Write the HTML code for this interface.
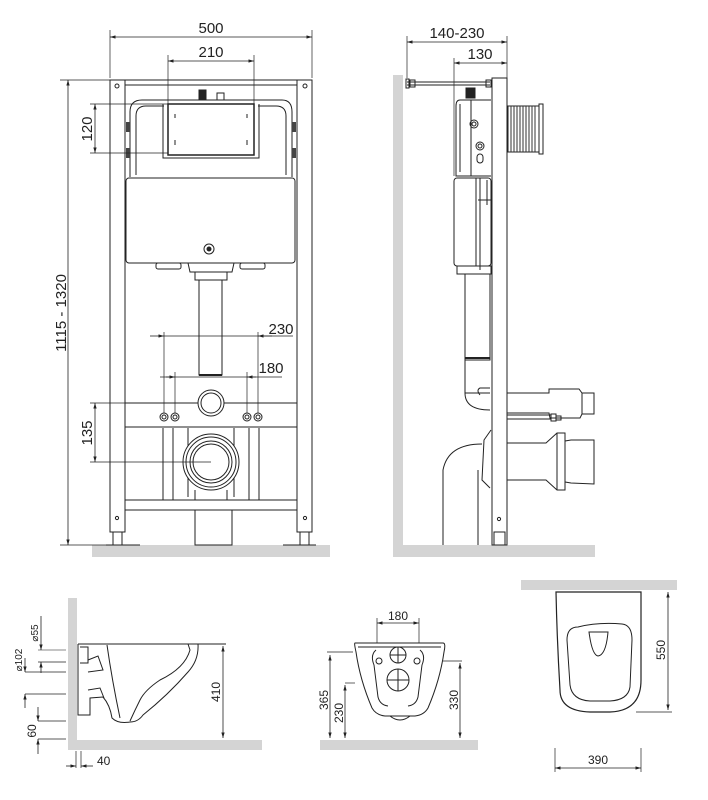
<!DOCTYPE html>
<html><head><meta charset="utf-8"><style>
html,body{margin:0;padding:0;background:#fff;width:708px;height:800px;overflow:hidden}
svg{display:block}
text{font-family:"Liberation Sans",sans-serif;fill:#222}
</style></head><body>
<svg width="708" height="800" viewBox="0 0 708 800" xmlns="http://www.w3.org/2000/svg">
<defs>
<marker id="a" viewBox="0 0 10 10" refX="10" refY="5" markerWidth="7" markerHeight="7" orient="auto-start-reverse"><path d="M0,2 L10,5 L0,8 z" fill="#222"/></marker>
</defs>
<g stroke="#222" fill="none" stroke-width="1">
<!-- ===== FRONT VIEW ===== -->
<rect x="92" y="545" width="238" height="12" fill="#d4d4d4" stroke="none"/>
<!-- frame posts -->
<rect x="110" y="80" width="15" height="452" fill="#fff"/>
<rect x="297" y="80" width="15" height="452" fill="#fff"/>
<line x1="125" y1="80" x2="297" y2="80"/><line x1="125" y1="85" x2="297" y2="85"/>
<circle cx="117" cy="86" r="2"/><circle cx="305" cy="86" r="2"/>
<circle cx="117" cy="518" r="1.6"/><circle cx="305" cy="518" r="1.6"/>
<rect x="113" y="532" width="9" height="13"/><rect x="300" y="532" width="9" height="13"/>
<line x1="106" y1="545" x2="140" y2="545"/><line x1="283" y1="545" x2="316" y2="545"/>
<!-- cistern upper -->
<path d="M130,177 L130,112 Q130,100 142,100 L282,100 Q292,100 292,112 L292,177"/>
<path d="M136,175 L136,116 Q136,106 146,106 L164,106 M258,106 L276,106 Q286,106 286,116 L286,175"/>
<path d="M163,104 L163,158 L259,158 L259,104"/>
<rect x="168" y="104" width="86" height="51" stroke-width="1.5"/>
<line x1="175" y1="114" x2="175" y2="118"/><line x1="247" y1="114" x2="247" y2="118"/>
<line x1="175" y1="140" x2="175" y2="145"/><line x1="247" y1="140" x2="247" y2="145"/>
<rect x="199" y="90" width="7" height="10" fill="#222"/><rect x="217" y="93" width="7" height="7"/>
<rect x="126" y="122" width="4" height="10" fill="#444" stroke="none"/><rect x="292" y="122" width="4" height="10" fill="#444" stroke="none"/>
<rect x="126" y="148" width="4" height="10" fill="#444" stroke="none"/><rect x="292" y="148" width="4" height="10" fill="#444" stroke="none"/>
<!-- cistern lower box -->
<rect x="126" y="178" width="169" height="85" rx="3" fill="#fff"/>
<circle cx="209" cy="249" r="5"/><circle cx="209" cy="249" r="2" fill="#222"/>
<rect x="156" y="263" width="25" height="6" rx="2"/><rect x="240" y="263" width="25" height="6" rx="2"/>
<path d="M188,263 L234,263 L232,272 L190,272 z"/>
<rect x="195" y="272" width="32" height="8"/>
<rect x="199" y="280" width="23" height="95"/>
<line x1="199" y1="375" x2="222" y2="375" stroke-width="2"/>
<!-- crossbar -->
<rect x="125" y="403" width="172" height="24"/>
<line x1="125" y1="427" x2="297" y2="427"/>
<circle cx="211" cy="403" r="13" fill="#fff"/><circle cx="211" cy="403" r="10"/>
<circle cx="164" cy="417" r="4"/><circle cx="164" cy="417" r="2"/>
<circle cx="175" cy="417" r="4"/><circle cx="175" cy="417" r="2"/>
<circle cx="247" cy="417" r="4"/><circle cx="247" cy="417" r="2"/>
<circle cx="258" cy="417" r="4"/><circle cx="258" cy="417" r="2"/>
<!-- lower area -->
<line x1="163" y1="428" x2="163" y2="500"/><line x1="173" y1="428" x2="173" y2="500"/>
<line x1="249" y1="428" x2="249" y2="500"/><line x1="259" y1="428" x2="259" y2="500"/>
<path d="M188,428 L188,497 M234,428 L234,497 M195,500 L195,490 M227,500 L227,490"/>
<circle cx="211" cy="462" r="28" fill="#fff"/><circle cx="211" cy="462" r="25"/>
<circle cx="211" cy="462" r="21"/><circle cx="211" cy="462" r="18"/>
<rect x="125" y="500" width="172" height="10"/>
<rect x="195" y="510" width="37" height="35"/>
<!-- dims front -->
<line x1="110" y1="78" x2="110" y2="30" stroke-width=".7"/><line x1="312" y1="78" x2="312" y2="30" stroke-width=".7"/>
<line x1="110" y1="37" x2="312" y2="37" marker-start="url(#a)" marker-end="url(#a)" stroke-width=".8"/>
<line x1="168" y1="104" x2="168" y2="55" stroke-width=".7"/><line x1="254" y1="104" x2="254" y2="55" stroke-width=".7"/>
<line x1="168" y1="61" x2="254" y2="61" marker-start="url(#a)" marker-end="url(#a)" stroke-width=".8"/>
<line x1="90" y1="104" x2="168" y2="104" stroke-width=".7"/><line x1="90" y1="153" x2="168" y2="153" stroke-width=".7"/>
<line x1="95" y1="104" x2="95" y2="153" marker-start="url(#a)" marker-end="url(#a)" stroke-width=".8"/>
<line x1="60" y1="80" x2="110" y2="80" stroke-width=".7"/><line x1="60" y1="545" x2="110" y2="545" stroke-width=".7"/>
<line x1="68" y1="80" x2="68" y2="545" marker-start="url(#a)" marker-end="url(#a)" stroke-width=".8"/>
<line x1="90" y1="403" x2="140" y2="403" stroke-width=".7"/><line x1="90" y1="462" x2="211" y2="462" stroke-width=".7"/>
<line x1="95" y1="403" x2="95" y2="462" marker-start="url(#a)" marker-end="url(#a)" stroke-width=".8"/>
<line x1="164" y1="332" x2="164" y2="413" stroke-width=".7"/><line x1="258" y1="332" x2="258" y2="413" stroke-width=".7"/>
<line x1="150" y1="336" x2="164" y2="336" marker-end="url(#a)" stroke-width=".8"/>
<line x1="164" y1="336" x2="293" y2="336" stroke-width=".8"/>
<line x1="272" y1="336" x2="258" y2="336" marker-end="url(#a)" stroke-width=".8"/>
<line x1="175" y1="372" x2="175" y2="413" stroke-width=".7"/><line x1="247" y1="372" x2="247" y2="413" stroke-width=".7"/>
<line x1="160" y1="377" x2="282" y2="377" stroke-width=".8"/>
<line x1="166" y1="377" x2="175" y2="377" marker-end="url(#a)" stroke-width=".8"/>
<line x1="256" y1="377" x2="247" y2="377" marker-end="url(#a)" stroke-width=".8"/>

<!-- ===== SIDE VIEW ===== -->
<rect x="393" y="75" width="10" height="482" fill="#d4d4d4" stroke="none"/>
<rect x="393" y="545" width="202" height="12" fill="#d4d4d4" stroke="none"/>
<rect x="492" y="78" width="15" height="467" fill="#fff"/>
<rect x="494" y="532" width="11" height="13"/>
<circle cx="499" cy="519" r="1.6"/>
<line x1="407" y1="82" x2="490" y2="82"/><line x1="407" y1="85" x2="490" y2="85"/>
<rect x="406" y="79" width="3" height="9"/><rect x="410" y="80" width="5" height="7"/><rect x="486" y="80" width="5" height="7"/>
<rect x="466" y="88" width="9" height="10" fill="#222"/>
<path d="M491,100 L460,100 Q456,100 456,106 L456,176 L491,176"/>
<path d="M460,104 L460,172 M471,100 L471,176"/>
<circle cx="474" cy="124" r="4"/><circle cx="474" cy="124" r="2"/>
<circle cx="480" cy="146" r="4"/><circle cx="480" cy="146" r="2"/>
<rect x="477" y="154" width="6" height="9" rx="3"/>
<rect x="454" y="178" width="37" height="88" rx="3" fill="#fff"/>
<path d="M476,178 L476,266 M478,200 L491,200 M480,178 L480,270 M487,180 L487,205"/>
<rect x="457" y="266" width="34" height="8"/>
<rect x="465" y="274" width="25" height="86"/>
<line x1="465" y1="358" x2="490" y2="358" stroke-width="2"/>
<path d="M465,360 L465,393 Q465,410 490,410 M480,395 Q476,390 480,388 L490,388"/>
<line x1="465" y1="393" x2="490" y2="393"/>
<!-- bellows -->
<rect x="508" y="106" width="33" height="46" fill="#fff"/>
<g stroke="#333"><line x1="511" y1="106" x2="511" y2="152"/><line x1="514" y1="106" x2="514" y2="152"/><line x1="517" y1="106" x2="517" y2="152"/><line x1="520" y1="106" x2="520" y2="152"/><line x1="523" y1="106" x2="523" y2="152"/><line x1="526" y1="106" x2="526" y2="152"/><line x1="529" y1="106" x2="529" y2="152"/><line x1="532" y1="106" x2="532" y2="152"/><line x1="535" y1="106" x2="535" y2="152"/></g>
<rect x="539" y="104" width="4" height="50" fill="#fff"/>
<!-- connectors -->
<path d="M507,393 L549,393 L549,389 L579,389 L582,393 L594,393 L594,414 L582,414 L580,418 L550,418 L549,413 L507,413"/>
<line x1="582" y1="393" x2="582" y2="414"/>
<path d="M507,415 L551,415 L551,419 L507,419"/><rect x="551" y="414" width="5" height="7"/><rect x="556" y="416" width="5" height="4"/>
<path d="M507,443 L546,443 L557,433 L565,433 L565,441 L571,440 L594,440 L594,484 L571,483 L565,482 L565,490 L557,490 L546,480 L507,480"/>
<line x1="565" y1="433" x2="565" y2="490"/><line x1="557" y1="433" x2="557" y2="490"/>
<path d="M491,430 L484,440 L482,480 L490,488"/>
<path d="M482,444 Q448,444 443,470 L443,545"/>
<line x1="478" y1="470" x2="478" y2="545"/>
<!-- side dims -->
<line x1="407" y1="78" x2="407" y2="36" stroke-width=".7"/><line x1="507" y1="78" x2="507" y2="36" stroke-width=".7"/>
<line x1="407" y1="42" x2="507" y2="42" marker-start="url(#a)" marker-end="url(#a)" stroke-width=".8"/>
<line x1="454" y1="176" x2="454" y2="58" stroke-width=".7"/>
<line x1="454" y1="63" x2="507" y2="63" marker-start="url(#a)" marker-end="url(#a)" stroke-width=".8"/>

<!-- ===== BOTTOM LEFT ===== -->
<rect x="68" y="598" width="9" height="152" fill="#d4d4d4" stroke="none"/>
<rect x="68" y="740" width="194" height="10" fill="#d4d4d4" stroke="none"/>
<path d="M78,644 L226,644"/>
<path d="M78,644 L78,715 L90,715 L90,698 L103,697 Q110,705 112,718 Q118,724 130,722 Q138,722 143,715 Q168,695 188,672 Q199,660 198,644"/>
<path d="M107,645 Q112,680 120,718 M130,721 Q135,710 140,700 Q145,690 160,680 Q185,668 190,650 L188,644"/>
<path d="M80,647 L88,647 L88,663 L80,663 M88,660 L98,656 L103,670 L88,672 M88,690 L100,688 L104,698"/>
<line x1="38" y1="650" x2="66" y2="650" stroke="#888"/><line x1="38" y1="662" x2="66" y2="662" stroke-width=".7"/>
<line x1="25" y1="672" x2="66" y2="672" stroke-width=".7"/><line x1="25" y1="694" x2="66" y2="694" stroke-width=".7"/>
<line x1="38" y1="721" x2="66" y2="721" stroke-width=".7"/><line x1="38" y1="739" x2="66" y2="739" stroke-width=".7"/>
<line x1="41" y1="616" x2="41" y2="650" marker-end="url(#a)" stroke-width=".8"/><line x1="41" y1="673" x2="41" y2="662" marker-end="url(#a)" stroke-width=".8"/>
<line x1="25" y1="658" x2="25" y2="672" marker-end="url(#a)" stroke-width=".8"/><line x1="25" y1="708" x2="25" y2="694" marker-end="url(#a)" stroke-width=".8"/>
<line x1="38" y1="707" x2="38" y2="721" marker-end="url(#a)" stroke-width=".8"/><line x1="38" y1="754" x2="38" y2="739" marker-end="url(#a)" stroke-width=".8"/>
<line x1="223" y1="646" x2="223" y2="738" marker-start="url(#a)" marker-end="url(#a)" stroke-width=".8"/>
<line x1="76" y1="751" x2="76" y2="768" stroke-width=".7"/><line x1="81" y1="751" x2="81" y2="768" stroke-width=".7"/>
<line x1="66" y1="766" x2="76" y2="766" marker-end="url(#a)" stroke-width=".8"/><line x1="93" y1="766" x2="81" y2="766" marker-end="url(#a)" stroke-width=".8"/>

<!-- ===== BOTTOM MIDDLE ===== -->
<rect x="320" y="740" width="158" height="10" fill="#d4d4d4" stroke="none"/>
<path d="M355,643 L443,643 Q446,643 444,652 Q440,680 428,708 Q424,715 415,716 L385,716 Q376,715 372,708 Q360,680 356,652 Q354,643 355,643 z"/>
<path d="M358,647 L441,647"/>
<path d="M390,716 Q400,724 410,716"/>
<circle cx="398" cy="655" r="8"/><line x1="390" y1="655" x2="406" y2="655"/><line x1="398" y1="647" x2="398" y2="663"/>
<circle cx="398" cy="680" r="11"/><line x1="387" y1="680" x2="409" y2="680"/><line x1="398" y1="669" x2="398" y2="691"/>
<circle cx="379" cy="661" r="3"/><circle cx="417" cy="661" r="3"/>
<path d="M376,650 Q370,655 374,665 L378,697 Q380,705 388,706 M420,650 Q426,655 422,665 L418,697 Q416,705 408,706"/>
<line x1="377" y1="643" x2="377" y2="618" stroke-width=".7"/><line x1="419" y1="643" x2="419" y2="618" stroke-width=".7"/>
<line x1="377" y1="623" x2="419" y2="623" marker-start="url(#a)" marker-end="url(#a)" stroke-width=".8"/>
<line x1="327" y1="652" x2="353" y2="652" stroke-width=".7"/>
<line x1="330" y1="655" x2="330" y2="738" marker-start="url(#a)" marker-end="url(#a)" stroke-width=".8"/>
<line x1="345" y1="683" x2="355" y2="683" stroke-width=".7"/>
<line x1="345" y1="685" x2="345" y2="738" marker-start="url(#a)" marker-end="url(#a)" stroke-width=".8"/>
<line x1="443" y1="661" x2="462" y2="661" stroke-width=".7"/>
<line x1="460" y1="663" x2="460" y2="738" marker-start="url(#a)" marker-end="url(#a)" stroke-width=".8"/>

<!-- ===== BOTTOM RIGHT ===== -->
<rect x="521" y="580" width="156" height="10" fill="#d4d4d4" stroke="none"/>
<path d="M556,592 L641,592 L641,680 Q641,711 610,712 L590,712 Q560,711 560,690 Q557,640 556,592 z" stroke-width="1.2"/>
<path d="M578,627 Q567,627 567,640 L570,685 Q572,700 590,701 L610,701 Q628,700 630,687 L632,640 Q632,625 622,624 Q598,622 578,627 z"/>
<path d="M589,632 L608,632 Q606,655 598,656 Q592,655 589,632 z"/>
<line x1="636" y1="712" x2="672" y2="712" stroke-width=".7"/>
<line x1="668" y1="592" x2="668" y2="710" marker-start="url(#a)" marker-end="url(#a)" stroke-width=".8"/>
<line x1="555" y1="748" x2="555" y2="772" stroke-width=".7"/><line x1="641" y1="748" x2="641" y2="772" stroke-width=".7"/>
<line x1="555" y1="768" x2="641" y2="768" marker-start="url(#a)" marker-end="url(#a)" stroke-width=".8"/>
</g>

<g font-size="15">
<text x="211" y="33" text-anchor="middle">500</text>
<text x="211" y="57" text-anchor="middle">210</text>
<text x="281" y="334" text-anchor="middle">230</text>
<text x="271" y="373" text-anchor="middle">180</text>
<text transform="translate(92,129) rotate(-90)" text-anchor="middle">120</text>
<text transform="translate(92,433) rotate(-90)" text-anchor="middle">135</text>
<text transform="translate(66,313) rotate(-90)" text-anchor="middle">1115 - 1320</text>
<text x="457" y="38" text-anchor="middle">140-230</text>
<text x="480" y="59" text-anchor="middle">130</text>
</g>
<g font-size="12">
<text transform="translate(38,633) rotate(-90)" text-anchor="middle" font-size="10">⌀55</text>
<text transform="translate(22,660) rotate(-90)" text-anchor="middle" font-size="10">⌀102</text>
<text transform="translate(36,731) rotate(-90)" text-anchor="middle">60</text>
<text transform="translate(220,692) rotate(-90)" text-anchor="middle">410</text>
<text x="97" y="765">40</text>
<text x="398" y="620" text-anchor="middle">180</text>
<text transform="translate(328,700) rotate(-90)" text-anchor="middle">365</text>
<text transform="translate(343,713) rotate(-90)" text-anchor="middle">230</text>
<text transform="translate(458,700) rotate(-90)" text-anchor="middle">330</text>
<text transform="translate(665,650) rotate(-90)" text-anchor="middle">550</text>
<text x="598" y="764" text-anchor="middle">390</text>
</g>
</svg>
</body></html>
